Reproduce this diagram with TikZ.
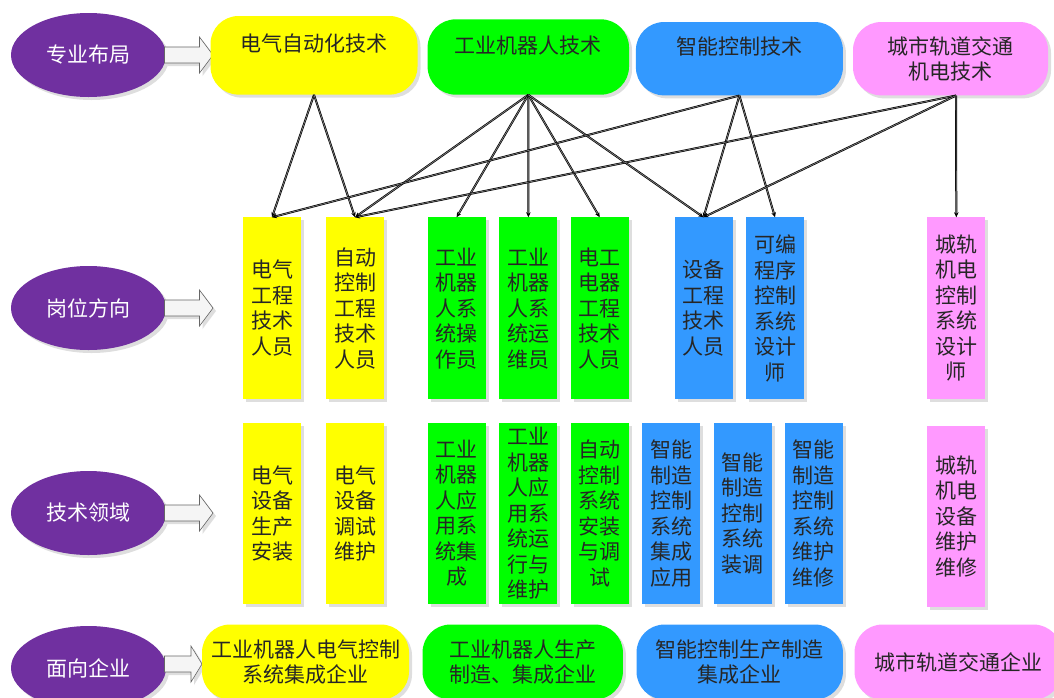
\documentclass[tikz,border=0pt]{standalone}
\usepackage{fontspec}
\setmainfont{Noto Sans CJK SC}
\usetikzlibrary{shapes.geometric,shadows,arrows.meta}
\definecolor{cpurple}{HTML}{7030A0}
\definecolor{cyellow}{HTML}{FFFF00}
\definecolor{cgreen}{HTML}{00FF00}
\definecolor{cblue}{HTML}{3399FF}
\definecolor{cpink}{HTML}{FF99FF}
\begin{document}
\begin{tikzpicture}[x=1pt,y=-1pt,
  font=\fontsize{21}{25.5}\selectfont,
  shad/.style={drop shadow={fill=black!13,opacity=1,shadow xshift=3pt,shadow yshift=-3pt}},
  oval/.style={ellipse,fill=cpurple,text=white,minimum width=155pt,minimum height=84pt,inner sep=0pt,shad},
  topbox/.style={rectangle,rounded corners=28pt,inner sep=0pt,align=center,text=black!85,shad},
  vbox/.style={rectangle,minimum width=58pt,minimum height=181.5pt,inner sep=0pt,align=center,text=black!85,shad},
  barrow/.style={fill=black!4,draw=black!60,line width=0.6pt,shad},
  conn/.style={draw=black,double=black!45,double distance=0.6pt,line width=0.7pt,-{Stealth[length=5pt,width=4.5pt]}},
]
\useasboundingbox (0,0) rectangle (1054,697);

% left ovals
\node[oval] (e1) at (88.5,55) {专业布局};
\node[oval] (e2) at (88.5,308) {岗位方向};
\node[oval] (e3) at (88.5,513) {技术领域};
\node[oval] (e4) at (88.5,668) {面向企业};

% block arrows
\draw[barrow] (164.5,47) -- (199.5,47) -- (199.5,37) -- (213,55) -- (199.5,73) -- (199.5,63) -- (164.5,63) -- cycle;
\draw[barrow] (164.5,300) -- (199.5,300) -- (199.5,290) -- (213,308) -- (199.5,326) -- (199.5,316) -- (164.5,316) -- cycle;
\draw[barrow] (164.5,505) -- (199.5,505) -- (199.5,495) -- (213,513) -- (199.5,531) -- (199.5,521) -- (164.5,521) -- cycle;
\draw[barrow] (164.5,656) -- (191,656) -- (191,646) -- (202,664) -- (191,682) -- (191,672) -- (164.5,672) -- cycle;

% top row
\node[topbox,fill=cyellow,minimum width=207pt,minimum height=78.6pt] (A) at (314,55.3) {电气自动化技术\\~};
\node[topbox,fill=cgreen,minimum width=201.4pt,minimum height=75.3pt] (B) at (528.3,57) {工业机器人技术\\~};
\node[topbox,fill=cblue,minimum width=207pt,minimum height=73.3pt] (C) at (739.4,58.7) {智能控制技术\\~};
\node[topbox,fill=cpink,minimum width=195pt,minimum height=73.3pt] (D) at (950.5,58.7) {城市轨道交通\\机电技术};

% row 2
\node[vbox,fill=cyellow] (r21) at (272,308.2) {电气\\工程\\技术\\人员};
\node[vbox,fill=cyellow] (r22) at (355,308.2) {自动\\控制\\工程\\技术\\人员};
\node[vbox,fill=cgreen] (r23) at (456.6,308.2) {工业\\机器\\人系\\统操\\作员};
\node[vbox,fill=cgreen] (r24) at (528.4,308.2) {工业\\机器\\人系\\统运\\维员};
\node[vbox,fill=cgreen] (r25) at (599.7,308.2) {电工\\电器\\工程\\技术\\人员};
\node[vbox,fill=cblue] (r26) at (703.5,308.2) {设备\\工程\\技术\\人员};
\node[vbox,fill=cblue] (r27) at (775,308.2) {可编\\程序\\控制\\系统\\设计\\师};
\node[vbox,fill=cpink] (r28) at (956.3,308.2) {城轨\\机电\\控制\\系统\\设计\\师};

% row 3
\node[vbox,fill=cyellow] (r31) at (272,513.3) {电气\\设备\\生产\\安装};
\node[vbox,fill=cyellow] (r32) at (355,513.3) {电气\\设备\\调试\\维护};
\node[vbox,fill=cgreen] (r33) at (456.6,513.3) {工业\\机器\\人应\\用系\\统集\\成};
\node[vbox,fill=cgreen] (r34) at (528.4,513.3) {工业\\机器\\人应\\用系\\统运\\行与\\维护};
\node[vbox,fill=cgreen] (r35) at (599.7,513.3) {自动\\控制\\系统\\安装\\与调\\试};
\node[vbox,fill=cblue] (r36) at (671,513.3) {智能\\制造\\控制\\系统\\集成\\应用};
\node[vbox,fill=cblue] (r37) at (742.5,513.3) {智能\\制造\\控制\\系统\\装调};
\node[vbox,fill=cblue] (r38) at (813.8,513.3) {智能\\制造\\控制\\系统\\维护\\维修};
\node[vbox,fill=cpink] (r39) at (956.3,516.4) {城轨\\机电\\设备\\维护\\维修};

% bottom row
\node[topbox,fill=cyellow,minimum width=207pt,minimum height=75pt] (F1) at (305.5,662) {工业机器人电气控制\\系统集成企业};
\node[topbox,fill=cgreen,minimum width=200.4pt,minimum height=75pt] (F2) at (522.7,662) {工业机器人生产\\制造、集成企业};
\node[topbox,fill=cblue,minimum width=206.4pt,minimum height=75pt] (F3) at (739.7,662) {智能控制生产制造\\集成企业};
\node[topbox,fill=cpink,minimum width=207pt,minimum height=75pt] (F4) at (958,662) {城市轨道交通企业};

% connectors
\coordinate (As) at (A.south);
\coordinate (Bs) at (B.south);
\coordinate (Cs) at (C.south);
\coordinate (Ds) at ([xshift=5.5pt]D.south);
\draw[conn] (As) -- (r21.north);
\draw[conn] (As) -- (r22.north);
\draw[conn] (Bs) -- (r22.north);
\draw[conn] (Bs) -- (r23.north);
\draw[conn] (Bs) -- (r24.north);
\draw[conn] (Bs) -- (r25.north);
\draw[conn] (Bs) -- (r26.north);
\draw[conn] (Cs) -- (r21.north);
\draw[conn] (Cs) -- (r26.north);
\draw[conn] (Cs) -- (r27.north);
\draw[conn] (Ds) -- (r22.north);
\draw[conn] (Ds) -- (r26.north);
\draw[conn] (Ds) -- (r28.north);
\end{tikzpicture}
\end{document}
